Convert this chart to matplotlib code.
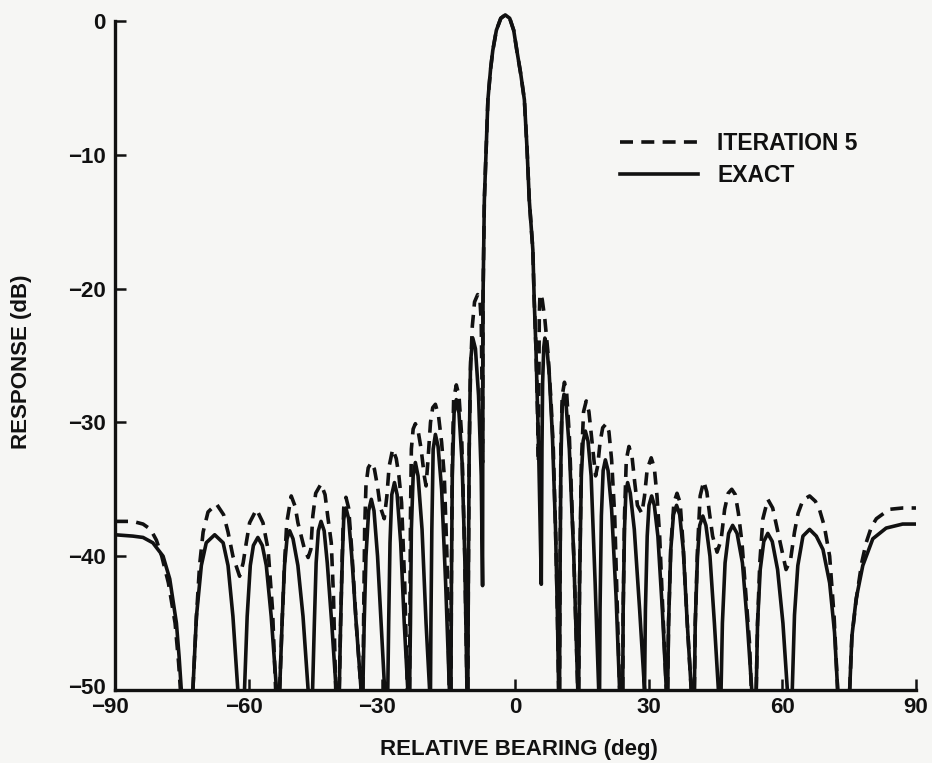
import matplotlib as mpl
mpl.use('Agg')
import numpy as np
import matplotlib.pyplot as plt
import matplotlib.transforms as mtransforms

###########################################
## traced response curves (deg, dB); GAP = curve drops below the -50 dB floor
GAP = (np.nan, np.nan)

exact_trace = [
    (-90.0, -38.4), (-86.0, -38.5), (-83.7, -38.6), (-81.5, -39.0), (-79.2, -40.0), (-77.7, -41.7), (-76.2, -45.0), (-75.6, -47.5), (-75.1, -50.0), GAP,
    (-72.5, -50.0), (-71.7, -44.5), (-70.6, -40.7), (-69.5, -39.0), (-67.6, -38.4), (-65.7, -39.0), (-64.6, -40.7), (-63.5, -44.5), (-62.4, -50.0), GAP,
    (-60.9, -50.0), (-60.3, -44.5), (-59.6, -40.7), (-58.9, -39.2), (-57.9, -38.6), (-56.9, -39.2), (-56.0, -40.7), (-54.9, -44.5), (-53.7, -50.0), GAP,
    (-53.0, -50.0), (-52.4, -44.5), (-51.9, -40.7), (-51.35, -38.7), (-50.75, -38.1), (-50.0, -38.7), (-48.9, -40.7), (-47.75, -44.5), (-46.6, -50.0), GAP,
    (-45.6, -50.0), (-45.2, -45.0), (-44.8, -40.5), (-44.3, -38.1), (-43.7, -37.4), (-43.0, -38.1), (-42.3, -40.5), (-41.3, -45.0), (-40.3, -50.0), GAP,
    (-39.6, -50.0), (-39.3, -45.0), (-38.9, -40.0), (-38.6, -37.2), (-38.1, -36.4), (-37.5, -37.2), (-36.8, -40.0), (-35.8, -45.0), (-34.7, -50.0), GAP,
    (-34.3, -50.0), (-34.0, -45.0), (-33.6, -40.0), (-33.0, -36.6), (-32.4, -35.75), (-31.8, -36.6), (-31.0, -40.0), (-30.2, -45.0), (-29.4, -50.0), GAP,
    (-28.7, -50.0), (-28.5, -45.0), (-28.2, -39.0), (-27.8, -35.4), (-27.2, -34.5), (-26.6, -35.4), (-25.8, -39.0), (-25.0, -45.0), (-24.2, -50.0), GAP,
    (-23.8, -50.0), (-23.6, -45.0), (-23.4, -38.0), (-23.0, -34.0), (-22.5, -33.0), (-21.9, -34.0), (-21.0, -38.0), (-20.1, -45.0), (-19.3, -50.0), GAP,
    (-19.1, -50.0), (-19.0, -45.0), (-18.8, -38.0), (-18.5, -32.0), (-18.0, -30.9), (-17.4, -31.8), (-16.6, -35.0), (-15.7, -42.0), (-14.85, -50.0), GAP,
    (-14.5, -50.0), (-14.4, -42.0), (-14.2, -34.0), (-13.8, -29.3), (-13.3, -28.3), (-12.7, -29.3), (-12.0, -33.0), (-11.4, -40.0), (-10.9, -50.0), GAP,
    (-10.7, -50.0), (-10.6, -42.0), (-10.4, -32.0), (-10.1, -25.5), (-9.6, -23.7), (-9.0, -24.5), (-8.3, -28.0), (-7.7, -34.0), (-7.4, -42.2),
    # main lobe
    (-7.35, -30.0), (-7.3, -20.8), (-7.0, -13.4), (-6.6, -9.6), (-6.2, -5.9), (-5.6, -3.6), (-5.1, -2.2), (-4.3, -0.7), (-3.3, 0.2), (-2.3, 0.45),
    (-1.3, 0.2), (-0.4, -0.7), (0.3, -2.2), (1.2, -4.0), (2.0, -5.9), (2.6, -9.6), (3.1, -13.4), (3.9, -17.1), (4.2, -20.8), (4.6, -24.5), (5.2, -32.0), (5.8, -42.1),
    (5.95, -32.0), (6.1, -27.0), (6.35, -24.4), (6.6, -23.7), (7.0, -24.2), (7.6, -26.5), (8.3, -31.0), (9.0, -38.0), (9.4, -44.0), (9.7, -50.0), GAP,
    (9.9, -50.0), (10.0, -42.0), (10.2, -33.0), (10.5, -28.8), (10.9, -27.9), (11.4, -28.8), (12.1, -32.0), (13.1, -40.0), (14.0, -50.0), GAP,
    (14.2, -50.0), (14.4, -42.0), (14.8, -34.0), (15.2, -31.4), (15.7, -30.65), (16.3, -31.4), (17.0, -34.0), (17.9, -42.0), (18.7, -50.0), GAP,
    (18.9, -50.0), (19.0, -44.0), (19.3, -37.0), (19.7, -33.6), (20.2, -32.8), (20.8, -33.6), (21.6, -36.5), (22.6, -43.0), (23.4, -50.0), GAP,
    (24.1, -50.0), (24.2, -44.0), (24.5, -38.0), (24.8, -35.3), (25.2, -34.5), (25.8, -35.3), (26.7, -38.0), (27.9, -44.0), (29.0, -50.0), GAP,
    (29.0, -50.0), (29.2, -44.0), (29.6, -38.5), (30.0, -36.2), (30.6, -35.5), (31.2, -36.2), (32.0, -38.5), (33.0, -44.0), (33.9, -50.0), GAP,
    (34.2, -50.0), (34.4, -45.0), (34.9, -39.5), (35.5, -36.9), (36.2, -36.2), (36.9, -36.9), (37.7, -39.5), (38.6, -45.0), (39.5, -50.0), GAP,
    (40.2, -50.0), (40.4, -45.0), (40.9, -40.0), (41.4, -37.7), (42.1, -37.0), (42.8, -37.7), (43.7, -40.0), (44.7, -45.0), (45.6, -50.0), GAP,
    (46.2, -50.0), (46.5, -45.0), (47.1, -40.5), (47.9, -38.3), (48.8, -37.7), (49.8, -38.3), (51.0, -40.5), (52.1, -45.0), (53.1, -50.0), GAP,
    (54.1, -50.0), (54.4, -45.0), (55.0, -41.0), (55.8, -38.9), (56.7, -38.3), (57.7, -38.9), (58.9, -41.0), (60.1, -45.0), (61.1, -50.0), GAP,
    (62.2, -50.0), (62.7, -44.4), (63.45, -40.7), (64.6, -38.5), (66.1, -38.0), (67.6, -38.5), (69.1, -39.5), (70.6, -42.0), (71.7, -45.7), (72.4, -50.0), GAP,
    (75.1, -50.0), (75.6, -46.0), (76.55, -43.2), (78.05, -40.7), (80.3, -38.7), (83.3, -37.9), (87.0, -37.6), (90.0, -37.6),
]

iter5_trace = [
    (-90.0, -37.4), (-86.0, -37.4), (-83.7, -37.6), (-82.0, -38.0), (-80.7, -38.8), (-79.5, -40.0), (-78.0, -42.0), (-76.5, -45.0), (-75.7, -48.0), (-75.3, -50.0), GAP,
    (-72.5, -50.0), (-71.7, -44.5), (-71.0, -40.7), (-70.2, -38.2), (-69.1, -36.7), (-67.2, -36.1), (-65.6, -36.9), (-64.6, -38.2), (-63.5, -40.0), (-62.0, -41.5),
    (-61.2, -40.5), (-60.5, -39.0), (-59.75, -37.5), (-58.2, -36.5), (-56.75, -37.5), (-55.6, -39.5), (-54.6, -44.0), (-53.9, -50.0), GAP,
    (-53.0, -50.0), (-52.4, -44.5), (-51.9, -40.5), (-51.4, -37.5), (-50.4, -35.5), (-49.5, -36.3), (-48.9, -37.5), (-47.4, -39.5), (-46.6, -40.1),
    (-46.0, -39.5), (-45.55, -37.0), (-44.9, -35.3), (-43.7, -34.6), (-42.8, -35.4), (-42.2, -37.0), (-41.4, -39.0), (-40.9, -43.0), (-40.4, -50.0), GAP,
    (-39.6, -50.0), (-39.3, -45.0), (-38.9, -39.5), (-38.6, -36.4), (-38.1, -35.6), (-37.5, -36.4), (-36.8, -39.5), (-35.8, -45.0), (-34.7, -50.0), GAP,
    (-34.3, -50.0), (-34.1, -44.0), (-33.9, -38.0), (-33.6, -34.7), (-33.1, -33.4), (-32.4, -33.0), (-31.7, -33.5), (-31.0, -34.8), (-30.4, -36.3), (-29.5, -37.2),
    (-28.9, -35.5), (-28.4, -33.3), (-27.6, -32.0), (-26.8, -32.7), (-26.2, -34.0), (-25.6, -36.0), (-24.9, -42.0), (-24.3, -50.0), GAP,
    (-23.8, -50.0), (-23.7, -44.0), (-23.6, -37.0), (-23.4, -32.0), (-23.0, -30.5), (-22.5, -30.1), (-21.9, -30.6), (-21.2, -32.0), (-20.5, -34.0), (-20.1, -34.75),
    (-19.6, -32.5), (-19.1, -30.0), (-18.6, -28.9), (-18.0, -28.65), (-17.3, -29.5), (-16.6, -31.5), (-16.0, -34.0), (-15.4, -40.0), (-14.9, -50.0), GAP,
    (-14.5, -50.0), (-14.4, -42.0), (-14.2, -33.0), (-13.9, -28.3), (-13.3, -27.2), (-12.7, -28.0), (-12.1, -31.0), (-11.4, -40.0), (-10.9, -50.0), GAP,
    (-10.7, -50.0), (-10.6, -42.0), (-10.4, -32.0), (-10.1, -26.0), (-9.7, -22.8), (-9.2, -21.0), (-8.5, -20.45), (-8.0, -20.8), (-7.7, -22.5), (-7.5, -28.0), (-7.4, -33.0),
    # main lobe
    (-7.3, -20.8), (-7.0, -13.4), (-6.6, -9.6), (-6.2, -5.9), (-5.6, -3.6), (-5.1, -2.2), (-4.3, -0.7), (-3.3, 0.2), (-2.3, 0.45),
    (-1.3, 0.2), (-0.4, -0.7), (0.3, -2.2), (1.2, -4.0), (2.0, -5.9), (2.6, -9.6), (3.1, -13.4), (3.9, -17.1), (4.2, -20.8), (4.6, -24.5), (5.0, -30.0), (5.15, -33.0),
    (5.25, -27.0), (5.35, -22.0), (5.5, -20.4), (6.0, -20.8), (6.6, -22.3), (7.3, -24.8), (8.0, -28.5), (8.5, -32.0), (9.0, -38.0), (9.4, -44.0), (9.7, -50.0), GAP,
    (9.9, -50.0), (10.0, -42.0), (10.2, -32.0), (10.5, -28.0), (11.0, -27.0), (11.5, -27.8), (12.1, -31.0), (13.1, -40.0), (14.0, -50.0), GAP,
    (14.2, -50.0), (14.4, -42.0), (14.8, -33.0), (15.3, -29.2), (15.9, -28.4), (16.5, -29.2), (17.0, -30.8), (17.4, -32.0), (18.0, -34.0),
    (18.5, -33.2), (19.0, -31.5), (19.6, -30.4), (20.4, -30.1), (21.0, -30.7), (21.6, -32.8), (22.3, -37.0), (22.9, -44.0), (23.4, -50.0), GAP,
    (24.1, -50.0), (24.2, -44.0), (24.5, -37.0), (24.9, -32.8), (25.5, -31.8), (26.2, -32.6), (26.8, -34.5), (27.4, -36.2), (28.4, -36.8),
    (29.0, -35.5), (29.6, -33.5), (30.5, -32.65), (31.2, -33.4), (31.8, -35.5), (32.4, -38.5), (33.1, -44.0), (33.9, -50.0), GAP,
    (34.2, -50.0), (34.4, -45.0), (34.9, -39.3), (35.6, -36.0), (36.3, -35.3), (37.0, -36.0), (37.7, -39.3), (38.6, -45.0), (39.5, -50.0), GAP,
    (40.2, -50.0), (40.4, -45.0), (40.9, -39.5), (41.5, -35.5), (42.3, -34.4), (43.0, -35.2), (43.6, -36.8), (44.3, -38.5), (45.3, -39.7),
    (46.2, -38.8), (47.0, -36.5), (47.8, -35.3), (48.6, -35.0), (49.4, -35.4), (50.1, -36.8), (50.9, -39.0), (51.8, -43.0), (52.6, -46.5), (53.0, -50.0), GAP,
    (54.1, -50.0), (54.4, -45.0), (54.9, -40.5), (55.6, -37.2), (56.7, -35.75), (57.8, -36.4), (59.3, -38.7), (60.8, -41.0),
    (61.8, -40.3), (62.7, -38.2), (63.5, -36.8), (64.6, -35.8), (66.1, -35.5), (67.4, -35.9), (68.3, -36.5), (69.4, -37.75), (70.6, -40.0), (71.6, -44.5), (72.4, -50.0), GAP,
    (75.1, -50.0), (75.6, -46.0), (76.6, -43.2), (77.8, -40.5), (78.8, -39.0), (80.0, -37.8), (81.1, -37.2), (84.0, -36.5), (87.0, -36.4), (90.0, -36.4),
]

xticks = [-90, -60, -30, 0, 30, 60, 90]
yticks = [0, -10, -20, -30, -40, -50]
series_labels = ['ITERATION 5', 'EXACT']

###########################################
FONT = 'Liberation Sans'
INK = '#111111'
PAPER = '#f6f6f4'
LW = 2.6

def tick_text(v):
    return ('\u2212%d' % -v) if v < 0 else '%d' % v

exact_deg, exact_db = np.array(exact_trace, dtype=float).T
iter5_deg, iter5_db = np.array(iter5_trace, dtype=float).T

fig = plt.figure(figsize=(9.32, 7.63), dpi=100, facecolor=PAPER)
ax = fig.add_axes([0.1234, 0.0957, 0.8594, 0.8944])
ax.set_facecolor(PAPER)

l_it, = ax.plot(iter5_deg, iter5_db, color=INK, lw=LW, dashes=(3.6, 2.3),
                dash_capstyle='butt', dash_joinstyle='round', label=series_labels[0])
l_ex, = ax.plot(exact_deg, exact_db, color=INK, lw=LW,
                solid_joinstyle='round', label=series_labels[1])

ax.set_xlim(-90, 90)
ax.set_ylim(-50, 1)

for s in ['top', 'right']:
    ax.spines[s].set_visible(False)
for s in ['left', 'bottom']:
    ax.spines[s].set_linewidth(2.4)
    ax.spines[s].set_color(INK)
ax.spines['left'].set_bounds(-50, 0)

ax.set_xticks(xticks)
ax.set_xticklabels([tick_text(v) for v in xticks])
ax.set_yticks(yticks)
ax.set_yticklabels([tick_text(v) for v in yticks])
ax.tick_params(direction='in', length=8, width=1.8, color=INK, labelcolor=INK, labelsize=16)
ax.tick_params(axis='x', pad=5)
ax.tick_params(axis='y', pad=7)
for lbl in ax.get_xticklabels() + ax.get_yticklabels():
    lbl.set_fontfamily(FONT)
    lbl.set_fontweight('bold')

# keep the digits of negative bearings centred on their ticks
shift = mtransforms.ScaledTranslation(-5/100, 0, fig.dpi_scale_trans)
for v, lbl in zip(xticks, ax.get_xticklabels()):
    if v < 0:
        lbl.set_transform(lbl.get_transform() + shift)
# lift the bottom response label clear of the bearing labels
lift = mtransforms.ScaledTranslation(0, 4/100, fig.dpi_scale_trans)
for v, lbl in zip(yticks, ax.get_yticklabels()):
    if v == -50:
        lbl.set_transform(lbl.get_transform() + lift)

# axis titles
fig.text(519/932, 1 - 750/763, 'RELATIVE BEARING (deg)', ha='center', va='center',
         fontsize=16, fontweight='bold', family=FONT, color=INK)
fig.text(22/932, 1 - 362/763, 'RESPONSE (dB)', ha='center', va='center', rotation=90,
         fontsize=16, fontweight='bold', family=FONT, color=INK)

leg = ax.legend(handles=[l_it, l_ex], loc='upper left', bbox_to_anchor=(0.63, 0.818),
                frameon=False, borderpad=0, borderaxespad=0, handlelength=3.4,
                handletextpad=0.85, labelspacing=0.42,
                prop={'family': FONT, 'weight': 'bold', 'size': 16.5})
for t in leg.get_texts():
    t.set_color(INK)

plt.savefig('out.png', dpi=100, facecolor=PAPER)
plt.close()
